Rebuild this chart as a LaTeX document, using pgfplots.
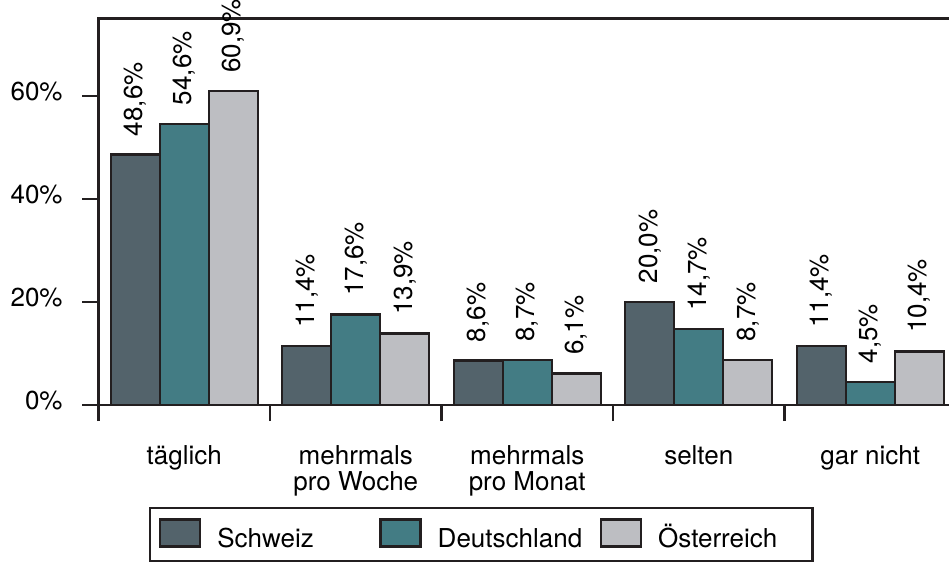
\documentclass[border=0pt]{standalone}
\usepackage{pgfplots}
\pgfplotsset{compat=1.18}
\usepackage{fontspec}
\setmainfont{TeX Gyre Heros}
\definecolor{cCH}{RGB}{83,99,107}
\definecolor{cDE}{RGB}{67,124,132}
\definecolor{cAT}{RGB}{189,190,194}
\definecolor{lin}{RGB}{35,31,32}
\pgfplotsset{
  mybar/.style={fill=#1, draw=lin, line width=1.2pt,
    legend image code/.code={\draw[fill=#1,draw=lin,line width=1.2pt] (0pt,-3.35pt) rectangle (20pt,10.3pt);}}
}
\newcommand{\lent}[1]{\makebox[72.5pt][l]{\rule{0pt}{9.3pt}\smash{#1}}}
\begin{document}
\begin{tikzpicture}[font=\fontsize{13}{13}\selectfont]
\begin{axis}[
  at={(0,0)}, anchor=south west,
  scale only axis, width=428.75pt, height=193.2pt,
  xmin=-0.5, xmax=4.5, ymin=0, ymax=75,
  clip=false,
  ybar=0pt, bar width=0.2857,
  /pgf/number format/assume math mode=true,
  axis line style={line width=1.3pt, draw=lin},
  tick pos=left, tick align=outside,
  major tick length=8pt, minor tick length=8pt,
  xtick={0,1,2,3,4},
  xticklabels={täglich, {mehrmals\\pro Woche}, {mehrmals\\pro Monat}, selten, gar nicht},
  xticklabel style={align=center, anchor=north, inner sep=0pt, yshift=-12.2pt, font=\fontsize{13}{13}\selectfont},
  minor xtick={-0.5,0.5,1.5,2.5,3.5},
  major x tick style={draw=none},
  minor x tick style={line width=1.3pt, draw=lin},
  ytick={0,20,40,60}, yticklabels={0\%,20\%,40\%,60\%},
  yticklabel style={anchor=east, inner sep=0pt, xshift=-9.75pt, yshift=2pt, font=\fontsize{13}{13}\selectfont},
  y tick style={line width=1.3pt, draw=lin},
  point meta=y,
  nodes near coords={\pgfmathprintnumber[fixed,fixed zerofill,precision=1,use comma]{\pgfplotspointmeta}\%},
  nodes near coords style={rotate=90, anchor=west, inner xsep=8.7pt, inner ysep=0pt, font=\fontsize{13}{13}\selectfont, text=black},
  legend columns=3,
  legend style={at={(0.4461,-0.335)}, anchor=center, draw=lin, line width=1.2pt,
    font=\fontsize{13}{13}\selectfont, inner xsep=4.6pt, inner ysep=5pt,
    nodes={inner sep=0pt},
    /tikz/every odd column/.append style={column sep=8pt},
    /tikz/every even column/.append style={column sep=8.5pt}},
]
\addplot[mybar=cCH] coordinates {(0,48.6) (1,11.4) (2,8.6) (3,20.0) (4,11.4)};
\addplot[mybar=cDE] coordinates {(0,54.6) (1,17.6) (2,8.7) (3,14.7) (4,4.5)};
\addplot[mybar=cAT] coordinates {(0,60.9) (1,13.9) (2,6.1) (3,8.7) (4,10.4)};
\legend{\lent{Schweiz},\lent{Deutschland},\lent{Österreich}}
\end{axis}
\pgfresetboundingbox
\useasboundingbox (-49.25pt,-78.5pt) rectangle (425.25pt,202.5pt);
\end{tikzpicture}
\end{document}
